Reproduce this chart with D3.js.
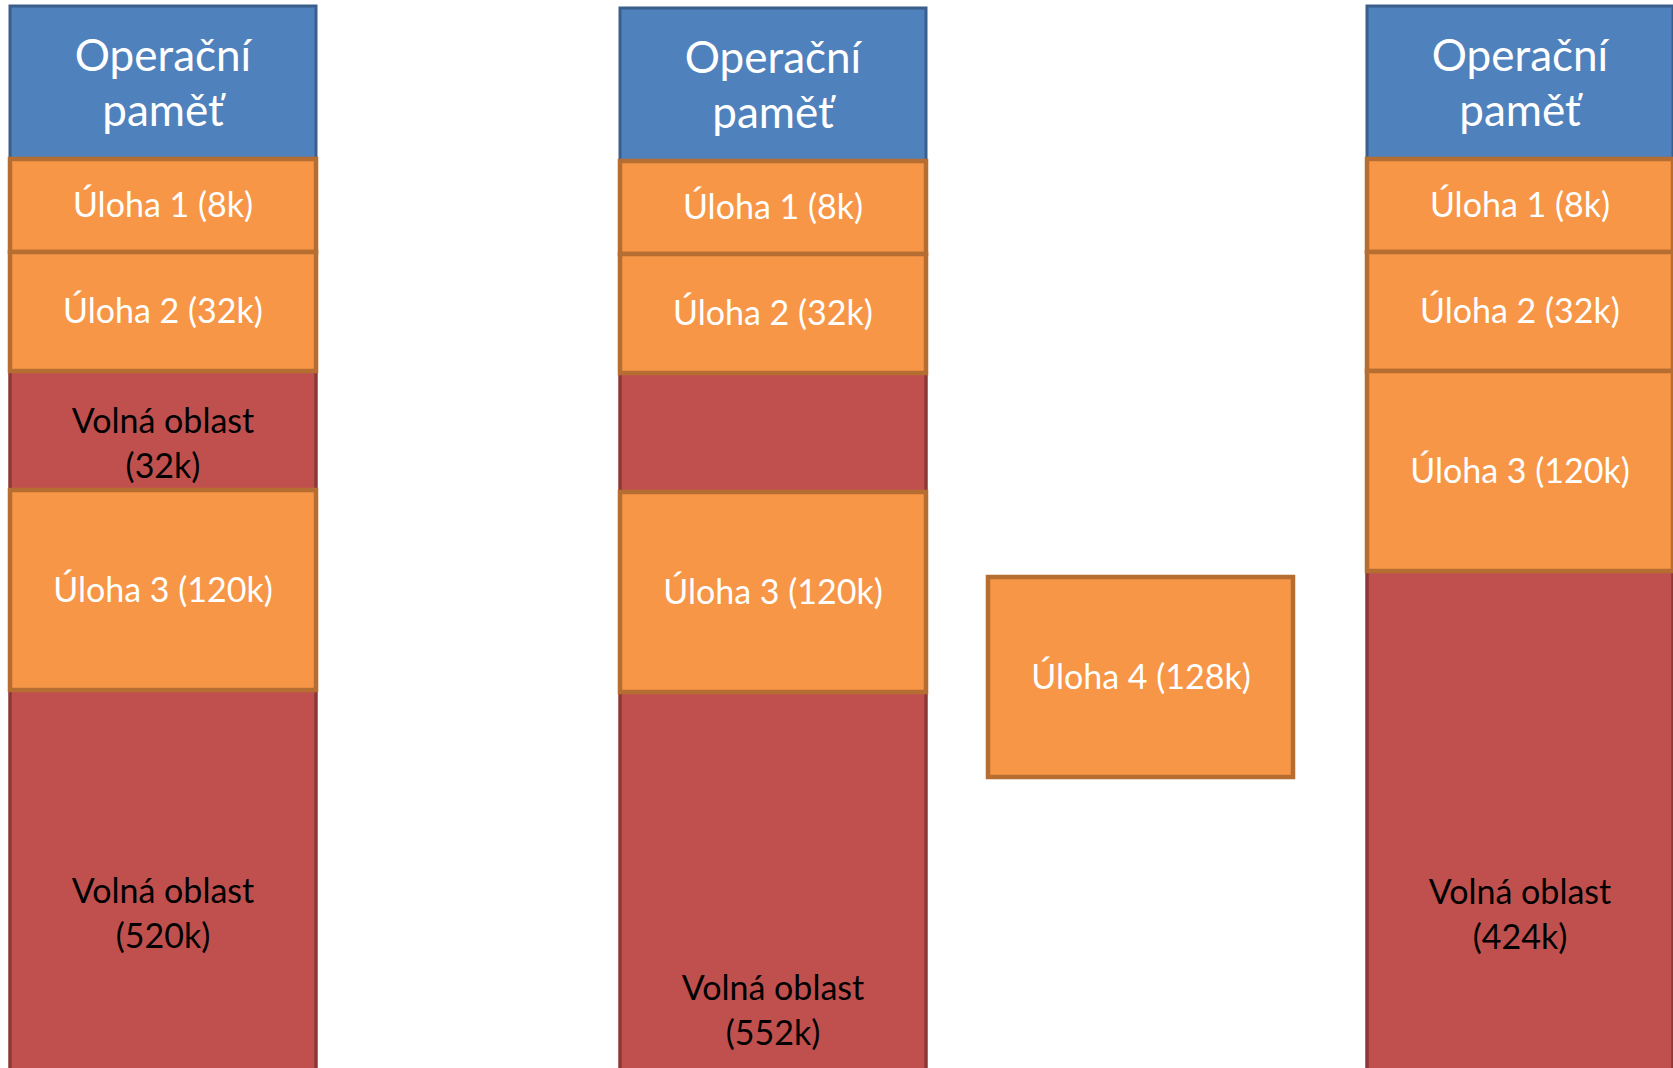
<!DOCTYPE html>
<html>
<head>
<meta charset="utf-8">
<script src="https://cdn.jsdelivr.net/npm/d3@7"></script>
<style>
  body { margin: 0; background: #fff; overflow: hidden; }
  svg { display: block; }
  text { font-family: Lato, "Noto Sans", sans-serif; }
</style>
</head>
<body>
<div id="chart"></div>
<script>
// sloupce diagramu (stavy operační paměti)
const columns = ["pred", "sloucene", "po"];
const headerLines = ["Operační", "paměť"];

// bloky ve sloupcích: popisek (| = nový řádek), velikost v k, druh bloku
const predLabels = ["Úloha 1 (8k)", "Úloha 2 (32k)", "Volná oblast|(32k)", "Úloha 3 (120k)", "Volná oblast|(520k)"];
const predSizes  = [8, 32, 32, 120, 520];
const predKinds  = ["task", "task", "free", "task", "free"];

const slouceneLabels = ["Úloha 1 (8k)", "Úloha 2 (32k)", "", "Úloha 3 (120k)", "Volná oblast|(552k)"];
const slouceneSizes  = [8, 32, 32, 120, 552];
const slouceneKinds  = ["task", "task", "free", "task", "free"];

const poLabels = ["Úloha 1 (8k)", "Úloha 2 (32k)", "Úloha 3 (120k)", "Volná oblast|(424k)"];
const poSizes  = [8, 32, 120, 424];
const poKinds  = ["task", "task", "task", "free"];

// nová úloha, která čeká na přidělení paměti
const newTaskLabel = "Úloha 4 (128k)";
const newTaskSize  = 128;

const blockData = {
    pred:     d3.zip(predLabels, predSizes, predKinds),
    sloucene: d3.zip(slouceneLabels, slouceneSizes, slouceneKinds),
    po:       d3.zip(poLabels, poSizes, poKinds)
};

// rozměry
const W = 1673, H = 1068;
const colWidth = 306;
const headerH = 153;

const x = d3.scaleOrdinal().domain([...columns, "nova"]).range([10, 620, 1367, 988]);
const top0 = d3.scaleOrdinal().domain(columns).range([6, 8, 6]);
// výška bloku podle velikosti (diagram není v měřítku)
const h = d3.scaleLinear().domain([8, 32, 120]).range([93, 119, 200]).clamp(true);
// svislý střed popisku poslední volné oblasti
const lastFreeLabelY = d3.scaleOrdinal().domain(columns).range([914, 1011, 915]);

const colors = {
    header: {fill: "#4F81BD", stroke: "#3A5F8B", text: "#fff"},
    task:   {fill: "#F79646", stroke: "#B66D31", text: "#fff"},
    free:   {fill: "#C0504D", stroke: "#8C3836", text: "#000"}
};

const svg = d3.select("#chart").append("svg")
    .attr("width", W)
    .attr("height", H);

function drawLabel(g, label, cx, cy, fontSize, lineH, color) {
    const lines = label.split("|");
    const t = g.append("text")
        .attr("text-anchor", "middle")
        .style("font-size", fontSize + "px")
        .attr("fill", color);
    lines.forEach((line, i) => {
        t.append("tspan")
            .attr("x", cx)
            .attr("y", cy + (i - (lines.length - 1) / 2) * lineH)
            .attr("dy", "0.35em")
            .text(line);
    });
}

columns.forEach(col => {
    const g = svg.append("g");
    const x0 = x(col);
    let y = top0(col) + headerH;

    // rozložení bloků
    const blocks = blockData[col].map(([label, size, kind], i, arr) => {
        const last = i === arr.length - 1;
        const bh = last ? H + 20 - y : h(size);
        const b = {label, size, kind, y, height: bh, last};
        y += bh;
        return b;
    });

    // hlavička
    g.append("rect")
        .attr("x", x0).attr("y", top0(col))
        .attr("width", colWidth).attr("height", headerH)
        .attr("fill", colors.header.fill)
        .attr("stroke", colors.header.stroke)
        .attr("stroke-width", 3);
    drawLabel(g, headerLines.join("|"), x0 + colWidth / 2, top0(col) + headerH / 2 + 1, 44, 55, colors.header.text);

    // nejdřív volné oblasti, přes ně úlohy
    ["free", "task"].forEach(kind => {
        g.selectAll("rect." + kind)
            .data(blocks.filter(b => b.kind === kind))
            .enter().append("rect")
            .attr("class", kind)
            .attr("x", x0)
            .attr("y", d => d.y)
            .attr("width", colWidth)
            .attr("height", d => d.height)
            .attr("fill", colors[kind].fill)
            .attr("stroke", colors[kind].stroke)
            .attr("stroke-width", kind === "task" ? 4.5 : 3.5);
    });

    blocks.forEach(b => {
        if (!b.label) return;
        let cy = b.y + b.height / 2;
        if (b.kind === "free") cy = b.last ? lastFreeLabelY(col) : cy + 13;
        drawLabel(g, b.label, x0 + colWidth / 2, cy, 34, 45, colors[b.kind].text);
    });
});

// samostatná úloha 4
const ng = svg.append("g");
const ny = 577;
ng.append("rect")
    .attr("x", x("nova")).attr("y", ny)
    .attr("width", colWidth - 1).attr("height", h(newTaskSize))
    .attr("fill", colors.task.fill)
    .attr("stroke", colors.task.stroke)
    .attr("stroke-width", 4.5);
drawLabel(ng, newTaskLabel, x("nova") + colWidth / 2, ny + h(newTaskSize) / 2, 34, 45, colors.task.text);
</script>
</body>
</html>
